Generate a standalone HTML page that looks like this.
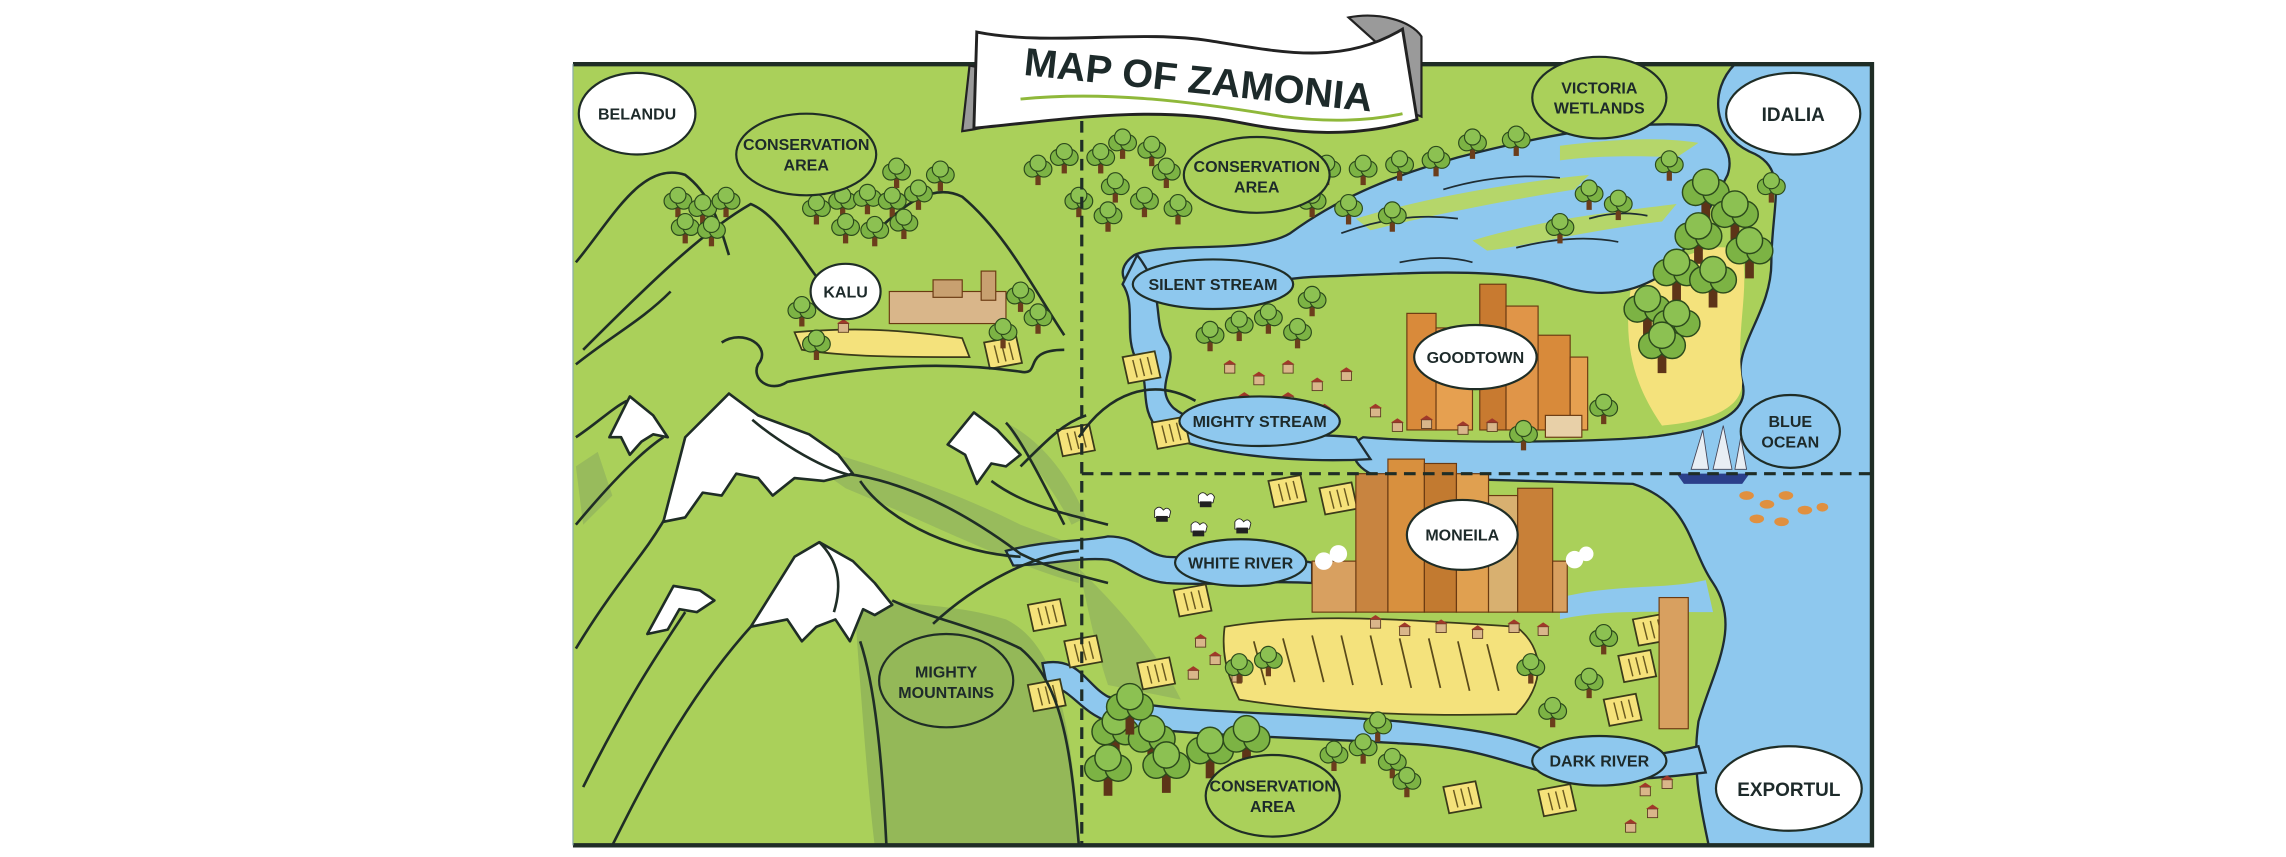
<!DOCTYPE html>
<html><head><meta charset="utf-8"><style>
html,body{margin:0;padding:0;background:#fff;}
svg{display:block;}
text{font-family:"Liberation Sans Narrow","Liberation Sans",sans-serif;font-weight:bold;fill:#1d2a2a;}
</style></head><body>
<svg width="2286" height="857" viewBox="0 0 1568 588" preserveAspectRatio="none" xmlns="http://www.w3.org/2000/svg">
<defs>
<g id="t">
<rect x="-1.8" y="0" width="3.6" height="9" fill="#6b3d1c"/>
<circle cx="-4" cy="-2" r="5.5" fill="#7cb344" stroke="#2c4a1c" stroke-width="0.8"/>
<circle cx="4" cy="-2" r="5.5" fill="#7cb344" stroke="#2c4a1c" stroke-width="0.8"/>
<circle cx="0" cy="-6" r="5.5" fill="#8cc152" stroke="#2c4a1c" stroke-width="0.8"/>
</g>
<g id="T">
<rect x="-3" y="0" width="6" height="16" fill="#5d3418"/>
<circle cx="-7" cy="-3" r="9" fill="#7cb344" stroke="#2c4a1c" stroke-width="1"/>
<circle cx="7" cy="-3" r="9" fill="#7cb344" stroke="#2c4a1c" stroke-width="1"/>
<circle cx="0" cy="-10" r="9" fill="#8cc152" stroke="#2c4a1c" stroke-width="1"/>
</g>
<g id="f"><path d="M0,0 L22,-4 L26,14 L4,18 Z" fill="#f5e27a" stroke="#3a3a1a" stroke-width="1.2"/><path d="M7,2 l3,12 M12,1 l3,12 M17,0 l3,12" stroke="#6a5a20" stroke-width="1"/></g>
<g id="h"><rect x="0" y="0" width="7" height="6" fill="#d9b68a" stroke="#5a3a20" stroke-width="0.6"/><path d="M-1,0 L3.5,-3 L8,0 Z" fill="#a0392a"/></g>
<g id="c"><path d="M-3,0 q3,-4 6,0 q3,-3 5,1 l-1,4 h-10 z" fill="#fff" stroke="#222" stroke-width="0.6"/><rect x="-2" y="4" width="8" height="4" fill="#222"/></g>
</defs>

<rect x="393" y="44" width="891" height="536" fill="#aad05a"/>

<path d="M585,400 C610,420 640,410 690,425 C720,440 735,480 740,580 L600,580 C595,540 590,470 585,400 Z" fill="#94b858"/>
<path d="M530,300 C570,310 640,330 700,360 L740,375 L740,400 C700,390 640,360 580,335 Z" fill="#98bb5c"/>
<path d="M395,320 L410,310 L420,340 L400,360 Z" fill="#98bb5c"/>
<path d="M690,290 C710,300 730,320 745,355 L735,360 C720,330 700,310 690,290Z" fill="#98bb5c"/>
<path d="M740,390 C760,410 790,440 810,480 L760,470 C750,440 745,410 740,390Z" fill="#98bb5c"/>

<path d="M1190,44 L1284,44 L1284,580 L1172,580 C1168,560 1160,530 1165,495 C1175,460 1195,430 1175,400 C1158,375 1160,345 1120,332 L945,327 C925,320 925,305 935,300 C985,304 1080,304 1130,300 C1185,294 1200,280 1195,262 C1188,238 1215,215 1215,180 C1215,140 1228,115 1200,104 C1175,92 1172,62 1190,44 Z" fill="#8ec8ee" stroke="#1f2d33" stroke-width="1.6"/>
<path d="M1120,190 C1150,180 1180,160 1195,175 C1200,200 1190,230 1195,262 C1195,285 1160,290 1140,292 C1125,270 1110,240 1120,190 Z" fill="#f4e27c"/>

<path d="M1165,86 C1110,82 1050,95 1000,108 C950,122 915,138 885,160 C860,175 800,165 778,175 C760,188 775,203 800,205 C830,206 862,192 900,190 C960,188 1030,182 1070,196 C1100,206 1125,200 1145,185 C1160,165 1175,140 1185,120 C1190,105 1180,92 1165,86 Z" fill="#8ec8ee" stroke="#1f2d33" stroke-width="1.6"/>
<path d="M930,150 C980,135 1040,125 1090,120 L1080,130 C1030,138 980,148 940,158Z M1010,165 C1060,150 1110,145 1150,140 L1140,152 C1090,158 1050,168 1020,172Z M1070,100 C1110,95 1140,94 1165,98 L1150,108 C1110,106 1085,108 1070,110Z" fill="#b5d66a"/>
<path d="M920,160 q40,-15 80,-10 M990,130 q40,-12 80,-8 M1040,170 q40,-10 70,-4 M960,180 q30,-6 50,0 M1090,150 q20,-6 40,-2" stroke="#1f2d33" stroke-width="1.2" fill="none"/>

<path d="M780,175 C800,200 790,220 800,235 C810,250 790,265 805,280 C830,300 880,296 930,300 L940,315 C890,318 820,312 795,295 C780,280 790,262 780,248 C770,230 780,210 770,195 Z" fill="#8ec8ee" stroke="#1f2d33" stroke-width="1.6"/>
<path d="M690,378 C720,370 740,372 760,368 C780,368 785,380 800,382 C830,384 870,380 900,386 L900,400 C870,398 830,402 800,400 C780,398 770,386 760,384 C740,382 715,388 695,388 Z" fill="#8ec8ee" stroke="#1f2d33" stroke-width="1.6"/>
<path d="M1070,410 C1110,400 1140,405 1170,398 L1175,420 C1140,420 1100,418 1070,425Z" fill="#8ec8ee"/>
<path d="M715,455 C740,450 745,470 760,478 C800,490 880,488 960,495 C1010,500 1040,505 1060,515 C1090,525 1130,520 1165,512 L1170,530 C1130,535 1090,538 1060,530 C1030,522 1010,512 960,510 C880,505 800,505 760,495 C740,488 735,472 718,470 Z" fill="#8ec8ee" stroke="#1f2d33" stroke-width="1.6"/>

<g>
<path d="M545,228 C580,225 610,225 660,232 L665,245 C620,245 580,245 550,240Z" fill="#f4e27c" stroke="#3a3a1a" stroke-width="1.2"/>
<path d="M840,430 C900,420 960,425 1040,430 C1060,445 1060,470 1040,490 C960,492 900,488 850,480 C840,460 838,445 840,430Z" fill="#f4e27c" stroke="#3a3a1a" stroke-width="1.2"/>
<path d="M860,440 l8,30 M880,438 l8,30 M900,436 l8,32 M920,436 l8,34 M940,436 l8,34 M960,438 l8,34 M980,438 l8,34 M1000,440 l8,34 M1020,442 l8,32" stroke="#5a4a1a" stroke-width="1.2"/>
<use href="#f" x="705" y="415"/><use href="#f" x="730" y="440"/><use href="#f" x="705" y="470"/><use href="#f" x="780" y="455"/><use href="#f" x="805" y="405"/>
<use href="#f" x="870" y="330"/><use href="#f" x="905" y="335"/><use href="#f" x="770" y="245"/><use href="#f" x="790" y="290"/><use href="#f" x="675" y="235"/>
<use href="#f" x="990" y="540"/><use href="#f" x="1055" y="542"/><use href="#f" x="1100" y="480"/><use href="#f" x="1110" y="450"/><use href="#f" x="1120" y="425"/><use href="#f" x="725" y="295"/>
</g>

<g fill="none" stroke="#1f2d26" stroke-width="1.8">
<path d="M395,180 C420,150 440,110 470,120 C490,135 495,160 500,175"/>
<path d="M400,240 C440,200 480,160 515,140 C540,150 560,200 580,210"/>
<path d="M600,160 C620,140 640,125 660,135 C690,160 710,200 730,230"/>
<path d="M495,235 C510,225 530,238 520,250 C515,260 528,270 540,262 C600,250 650,248 700,255 C715,258 700,240 730,240"/>
<path d="M395,250 C420,230 440,220 460,200"/>
<path d="M395,300 C410,290 420,280 430,275"/>
<path d="M395,360 C420,330 440,310 455,300"/>
<path d="M395,445 C410,420 425,400 440,380 C455,360 465,340 470,330"/>
<path d="M400,540 C430,480 450,450 470,420"/>
<path d="M420,580 C440,540 470,480 515,430"/>
<path d="M580,325 C620,330 660,350 700,380 C720,390 740,395 760,400"/>
<path d="M612,412 C640,425 670,430 700,445 C730,470 735,520 740,580"/>
<path d="M590,440 C600,470 605,520 608,580"/>
<path d="M680,330 C700,345 720,350 760,360"/>
<path d="M590,330 C610,360 660,380 700,382"/>
<path d="M640,428 C670,400 710,380 740,378"/>
<path d="M690,290 C700,300 720,340 730,360"/>
<path d="M700,320 C720,300 730,290 745,285"/>
<path d="M740,300 C760,270 790,258 820,275"/>
</g>

<g fill="#fff" stroke="#1f2d26" stroke-width="1.8" stroke-linejoin="round">
<path d="M418,300 L432,272 L448,285 L458,300 L448,298 L440,303 L432,312 L426,300 Z"/>
<path d="M455,358 L470,300 L500,270 L520,285 L555,298 L575,312 L585,325 L565,330 L545,328 L530,340 L520,328 L505,325 L495,340 L482,338 L470,355 Z"/>
<path d="M516,288 C530,300 560,320 583,326" fill="none"/>
<path d="M650,305 L668,283 L684,295 L700,312 L690,320 L680,318 L670,332 L662,312 Z"/>
<path d="M444,435 L462,402 L480,405 L490,412 L478,420 L466,418 L458,432 Z"/>
<path d="M515,430 L545,382 L562,372 L585,385 L600,400 L612,415 L600,422 L592,418 L583,440 L573,425 L560,430 L550,440 L540,425 Z"/>
<path d="M562,372 C575,385 578,400 572,420" fill="none"/>
</g>

<g stroke="#6a3a12" stroke-width="0.8">
<rect x="965" y="215" width="20" height="80" fill="#d98a3a"/>
<rect x="985" y="225" width="25" height="70" fill="#e6a050"/>
<rect x="1015" y="195" width="18" height="100" fill="#c87a30"/>
<rect x="1033" y="210" width="22" height="85" fill="#e09548"/>
<rect x="1055" y="230" width="22" height="65" fill="#d88a3a"/>
<rect x="1077" y="245" width="12" height="50" fill="#e6a050"/>
<rect x="930" y="325" width="22" height="95" fill="#c88440"/>
<rect x="952" y="315" width="25" height="105" fill="#d8903e"/>
<rect x="977" y="318" width="22" height="102" fill="#c27a30"/>
<rect x="999" y="325" width="22" height="95" fill="#e0a050"/>
<rect x="1021" y="340" width="20" height="80" fill="#d8b070"/>
<rect x="1041" y="335" width="24" height="85" fill="#c88038"/>
<rect x="900" y="385" width="30" height="35" fill="#d8a060"/>
<rect x="1065" y="385" width="10" height="35" fill="#d8a060"/>
<rect x="1138" y="410" width="20" height="90" fill="#d8a060"/>
<rect x="610" y="200" width="80" height="22" fill="#d9b68a"/>
<rect x="640" y="192" width="20" height="12" fill="#c8a070"/>
<rect x="673" y="186" width="10" height="20" fill="#c8a070"/>
<rect x="1060" y="285" width="25" height="15" fill="#e8d0a8"/>
</g>
<g>
<use href="#h" x="940" y="280"/><use href="#h" x="955" y="290"/><use href="#h" x="975" y="288"/><use href="#h" x="1000" y="292"/><use href="#h" x="1020" y="290"/>
<use href="#h" x="840" y="250"/><use href="#h" x="860" y="258"/><use href="#h" x="880" y="250"/><use href="#h" x="900" y="262"/><use href="#h" x="920" y="255"/><use href="#h" x="850" y="272"/><use href="#h" x="880" y="272"/><use href="#h" x="905" y="280"/>
<use href="#h" x="940" y="425"/><use href="#h" x="960" y="430"/><use href="#h" x="985" y="428"/><use href="#h" x="1010" y="432"/><use href="#h" x="1035" y="428"/><use href="#h" x="1055" y="430"/>
<use href="#h" x="820" y="438"/><use href="#h" x="830" y="450"/><use href="#h" x="815" y="460"/><use href="#h" x="845" y="462"/>
<use href="#h" x="1125" y="540"/><use href="#h" x="1140" y="535"/><use href="#h" x="1130" y="555"/><use href="#h" x="1115" y="565"/><use href="#h" x="575" y="222"/>
</g>
<g fill="#fff"><circle cx="908" cy="385" r="6"/><circle cx="918" cy="380" r="6"/><circle cx="1080" cy="384" r="6"/><circle cx="1088" cy="380" r="5"/></g>
<use href="#c" x="795" y="350"/><use href="#c" x="825" y="340"/><use href="#c" x="820" y="360"/><use href="#c" x="850" y="358"/>
<path d="M1150,325 L1200,325 L1195,332 L1155,332 Z" fill="#2b3f8a"/>
<path d="M1160,322 L1168,295 L1172,322Z M1175,322 L1182,292 L1188,322Z M1190,322 L1194,300 L1198,322Z" fill="#e8eef4" stroke="#445" stroke-width="0.6"/>
<g fill="#e09040"><ellipse cx="1198" cy="340" rx="5" ry="3"/><ellipse cx="1212" cy="346" rx="5" ry="3"/><ellipse cx="1225" cy="340" rx="5" ry="3"/><ellipse cx="1238" cy="350" rx="5" ry="3"/><ellipse cx="1205" cy="356" rx="5" ry="3"/><ellipse cx="1222" cy="358" rx="5" ry="3"/><ellipse cx="1250" cy="348" rx="4" ry="3"/></g>

<g>
<use href="#t" x="465" y="140"/><use href="#t" x="482" y="145"/><use href="#t" x="498" y="140"/><use href="#t" x="470" y="158"/><use href="#t" x="488" y="160"/>
<use href="#t" x="560" y="145"/><use href="#t" x="578" y="140"/><use href="#t" x="595" y="138"/><use href="#t" x="612" y="140"/><use href="#t" x="630" y="135"/><use href="#t" x="580" y="158"/><use href="#t" x="600" y="160"/><use href="#t" x="620" y="155"/><use href="#t" x="615" y="120"/><use href="#t" x="645" y="122"/>
<use href="#t" x="550" y="215"/><use href="#t" x="560" y="238"/><use href="#t" x="700" y="205"/><use href="#t" x="712" y="220"/><use href="#t" x="688" y="230"/>
<use href="#t" x="712" y="118"/><use href="#t" x="730" y="110"/><use href="#t" x="755" y="110"/><use href="#t" x="770" y="100"/><use href="#t" x="790" y="105"/><use href="#t" x="765" y="130"/><use href="#t" x="785" y="140"/><use href="#t" x="760" y="150"/><use href="#t" x="740" y="140"/><use href="#t" x="808" y="145"/><use href="#t" x="800" y="120"/>
<use href="#t" x="910" y="118"/><use href="#t" x="935" y="118"/><use href="#t" x="960" y="115"/><use href="#t" x="985" y="112"/><use href="#t" x="1010" y="100"/><use href="#t" x="1040" y="98"/><use href="#t" x="900" y="140"/><use href="#t" x="925" y="145"/><use href="#t" x="955" y="150"/><use href="#t" x="1090" y="135"/><use href="#t" x="1110" y="142"/><use href="#t" x="1070" y="158"/>
<use href="#T" x="1170" y="135"/><use href="#T" x="1190" y="150"/><use href="#T" x="1165" y="165"/><use href="#T" x="1200" y="175"/><use href="#T" x="1150" y="190"/><use href="#T" x="1175" y="195"/><use href="#T" x="1130" y="215"/><use href="#T" x="1150" y="225"/><use href="#T" x="1140" y="240"/><use href="#t" x="1145" y="115"/><use href="#t" x="1215" y="130"/>
<use href="#t" x="850" y="225"/><use href="#t" x="870" y="220"/><use href="#t" x="890" y="230"/><use href="#t" x="830" y="232"/><use href="#t" x="900" y="208"/>
<use href="#t" x="1045" y="300"/><use href="#t" x="1100" y="282"/>
<use href="#T" x="765" y="505"/><use href="#T" x="790" y="510"/><use href="#T" x="760" y="530"/><use href="#T" x="800" y="528"/><use href="#T" x="830" y="518"/><use href="#T" x="855" y="510"/><use href="#T" x="775" y="488"/>
<use href="#t" x="915" y="520"/><use href="#t" x="935" y="515"/><use href="#t" x="955" y="525"/><use href="#t" x="945" y="500"/><use href="#t" x="965" y="538"/>
<use href="#t" x="850" y="460"/><use href="#t" x="870" y="455"/><use href="#t" x="1050" y="460"/><use href="#t" x="1065" y="490"/><use href="#t" x="1090" y="470"/><use href="#t" x="1100" y="440"/>
</g>

<path d="M742,44 L742,580" stroke="#1f2d26" stroke-width="2.2" stroke-dasharray="8,5"/>
<path d="M742,325 L1284,325" stroke="#1f2d26" stroke-width="2.2" stroke-dasharray="8,5"/>

<path d="M393,44 L1284,44 L1284,580 L393,580" fill="none" stroke="#1f2d26" stroke-width="3"/>
<path d="M393,44 L393,580" stroke="#8aa" stroke-width="0.8"/>

<g stroke="#1f2d26" stroke-width="1.5">
<ellipse cx="437" cy="78" rx="40" ry="28" fill="#fff"/>
<ellipse cx="553" cy="106" rx="48" ry="28" fill="#aad05a"/>
<ellipse cx="580" cy="200" rx="24" ry="19" fill="#fff"/>
<ellipse cx="862" cy="120" rx="50" ry="26" fill="#aad05a"/>
<ellipse cx="1097" cy="67" rx="46" ry="28" fill="#aad05a"/>
<ellipse cx="1230" cy="78" rx="46" ry="28" fill="#fff"/>
<ellipse cx="832" cy="195" rx="55" ry="17" fill="#8ec8ee"/>
<ellipse cx="1012" cy="245" rx="42" ry="22" fill="#fff"/>
<ellipse cx="864" cy="289" rx="55" ry="17" fill="#8ec8ee"/>
<ellipse cx="1228" cy="296" rx="34" ry="25" fill="#8ec8ee"/>
<ellipse cx="1003" cy="367" rx="38" ry="24" fill="#fff"/>
<ellipse cx="851" cy="386" rx="45" ry="16" fill="#8ec8ee"/>
<ellipse cx="649" cy="467" rx="46" ry="32" fill="#94b858"/>
<ellipse cx="873" cy="546" rx="46" ry="28" fill="#aad05a"/>
<ellipse cx="1097" cy="522" rx="46" ry="17" fill="#8ec8ee"/>
<ellipse cx="1227" cy="541" rx="50" ry="29" fill="#fff"/>
</g>
<g font-size="11" text-anchor="middle">
<text x="437" y="82">BELANDU</text>
<text x="553" y="103">CONSERVATION</text><text x="553" y="117">AREA</text>
<text x="580" y="204">KALU</text>
<text x="862" y="118">CONSERVATION</text><text x="862" y="132">AREA</text>
<text x="1097" y="64">VICTORIA</text><text x="1097" y="78">WETLANDS</text>
<text x="1230" y="83" font-size="13">IDALIA</text>
<text x="832" y="199">SILENT STREAM</text>
<text x="1012" y="249">GOODTOWN</text>
<text x="864" y="293">MIGHTY STREAM</text>
<text x="1228" y="293">BLUE</text><text x="1228" y="307">OCEAN</text>
<text x="1003" y="371">MONEILA</text>
<text x="851" y="390">WHITE RIVER</text>
<text x="649" y="465">MIGHTY</text><text x="649" y="479">MOUNTAINS</text>
<text x="873" y="543">CONSERVATION</text><text x="873" y="557">AREA</text>
<text x="1097" y="526">DARK RIVER</text>
<text x="1227" y="546" font-size="13">EXPORTUL</text>
</g>

<path d="M925,12 C945,8 968,14 975,25 L975,80 L950,70 L945,30 Z" fill="#9a9a9a" stroke="#222" stroke-width="1.5"/>
<path d="M665,45 L660,90 C675,88 690,84 700,82 L690,50 Z" fill="#9a9a9a" stroke="#222" stroke-width="1.5"/>
<path d="M670,22 C720,32 780,20 830,28 C880,36 920,45 962,20 L972,82 C930,95 890,92 850,84 C790,72 730,82 668,88 Z" fill="#fff" stroke="#222" stroke-width="2"/>
<path d="M700,68 C760,62 820,70 880,80 C910,84 940,83 962,78" fill="none" stroke="#8fb83a" stroke-width="2"/>
<text x="822" y="64" font-size="27" text-anchor="middle" transform="rotate(6 822 55)" textLength="240" lengthAdjust="spacingAndGlyphs" fill="#111">MAP OF ZAMONIA</text>
</svg>
</body></html>
